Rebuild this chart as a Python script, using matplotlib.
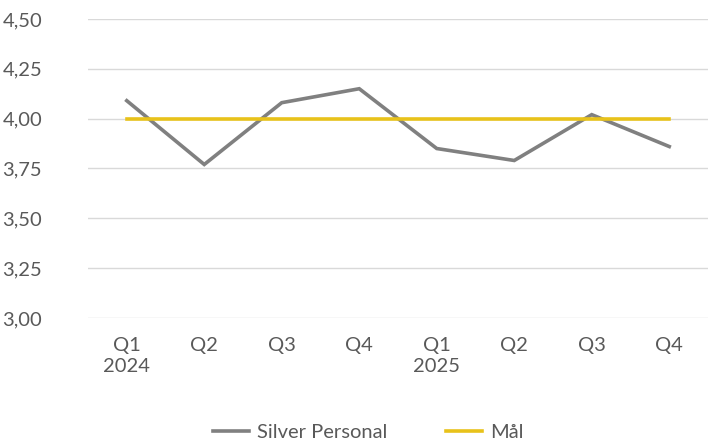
import matplotlib
matplotlib.use("Agg")
import matplotlib.pyplot as plt
from matplotlib.ticker import FuncFormatter

categories = ["Q1\n2024", "Q2", "Q3", "Q4", "Q1\n2025", "Q2", "Q3", "Q4"]
silver = [4.09, 3.77, 4.08, 4.15, 3.85, 3.79, 4.02, 3.86]
target = [4.00] * 8
yticks = [3.00, 3.25, 3.50, 3.75, 4.00, 4.25, 4.50]

plt.rcParams['font.family'] = ['Lato', 'DejaVu Sans']
txt = '#595959'

fig = plt.figure(figsize=(7.08, 4.41), dpi=100)
ax = fig.add_axes([0.1243, 0.279, 0.8757, 0.678])
x = list(range(len(categories)))
ax.plot(x, silver, color='#808080', lw=2.6, label='Silver Personal', solid_joinstyle='miter', zorder=3)
ax.plot(x, target, color='#E8C21A', lw=2.6, label='Mål', zorder=3)

ax.set_xlim(-0.5, len(categories) - 0.5)
ax.set_ylim(3.0, 4.5)
ax.set_yticks(yticks)
ax.yaxis.set_major_formatter(FuncFormatter(lambda v, p: f"{v:.2f}".replace('.', ',')))
ax.set_xticks(x)
ax.set_xticklabels(categories, linespacing=1.25)
ax.grid(axis='y', color='#d9d9d9', lw=1.0)
ax.set_axisbelow(True)
for s in ax.spines.values():
    s.set_visible(False)
ax.tick_params(axis='both', length=0, colors=txt, labelsize=14.5)
ax.tick_params(axis='x', pad=14)
ax.tick_params(axis='y', pad=33)
for lab in ax.get_yticklabels():
    lab.set_horizontalalignment('right')

leg = fig.legend(loc='center', bbox_to_anchor=(0.52, 0.02), ncol=2, frameon=False,
                 fontsize=14.5, handlelength=1.8, columnspacing=2.9, handletextpad=0.4)
for t in leg.get_texts():
    t.set_color(txt)

fig.savefig("out.png", dpi=100)
